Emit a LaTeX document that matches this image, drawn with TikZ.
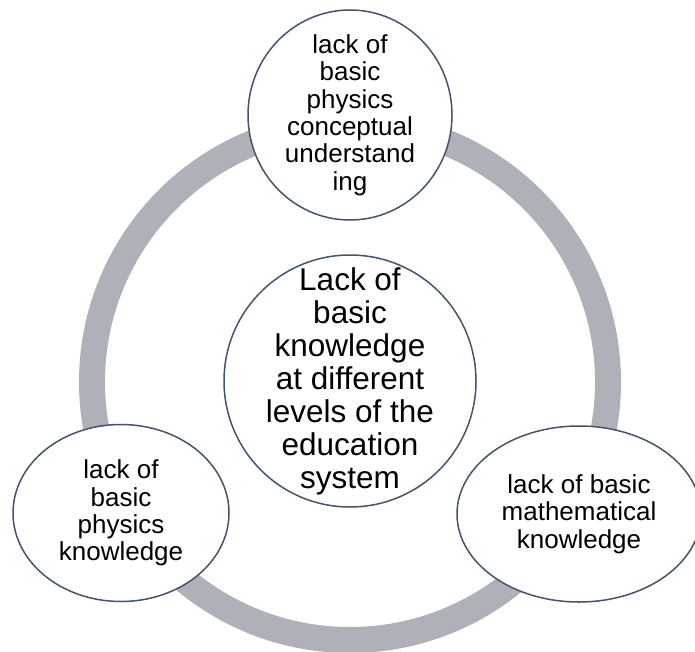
\documentclass[tikz,border=0pt]{standalone}
\usepackage{fontspec}
\setmainfont{Liberation Sans}
\usetikzlibrary{shapes.geometric}
\definecolor{ringgray}{HTML}{AEB1B8}
\definecolor{edgeblue}{HTML}{44546A}
\begin{document}
\begin{tikzpicture}[x=1pt,y=-1pt,
  bubble/.style={ellipse, draw=edgeblue, line width=1.5pt, fill=white, inner sep=0pt},
  label text/.style={align=center, text=black, inner sep=0pt},
  smalltext/.style={font=\fontsize{26}{27.4}\selectfont},
  bigtext/.style={font=\fontsize{31.5}{33}\selectfont}]
\useasboundingbox (0,0) rectangle (695,652);

% grey cycle ring behind the bubbles
\coordinate (C) at (350,382);
\draw[ringgray, line width=26pt] (C) circle[radius=258pt];

% central bubble
\node[bubble, minimum width=252pt, minimum height=252pt] (hub) at (350,381) {};
\node[label text, bigtext] (hubtext) at (hub.center)
  {Lack of\\basic\\knowledge\\at different\\levels of the\\education\\system};

% outer bubbles
\node[bubble, minimum width=204pt, minimum height=210pt] (top) at (350,115) {};
\node[label text, smalltext] (toptext) at (top.center)
  {lack of\\basic\\physics\\conceptual\\understand\\ing};

\node[bubble, minimum width=216pt, minimum height=177pt] (left) at (121,513) {};
\node[label text, smalltext] (lefttext) at (left.center)
  {lack of\\basic\\physics\\knowledge};

\node[bubble, minimum width=244pt, minimum height=176pt] (right) at (579,514) {};
\node[label text, smalltext] (righttext) at (right.center)
  {lack of basic\\mathematical\\knowledge};
\end{tikzpicture}
\end{document}
